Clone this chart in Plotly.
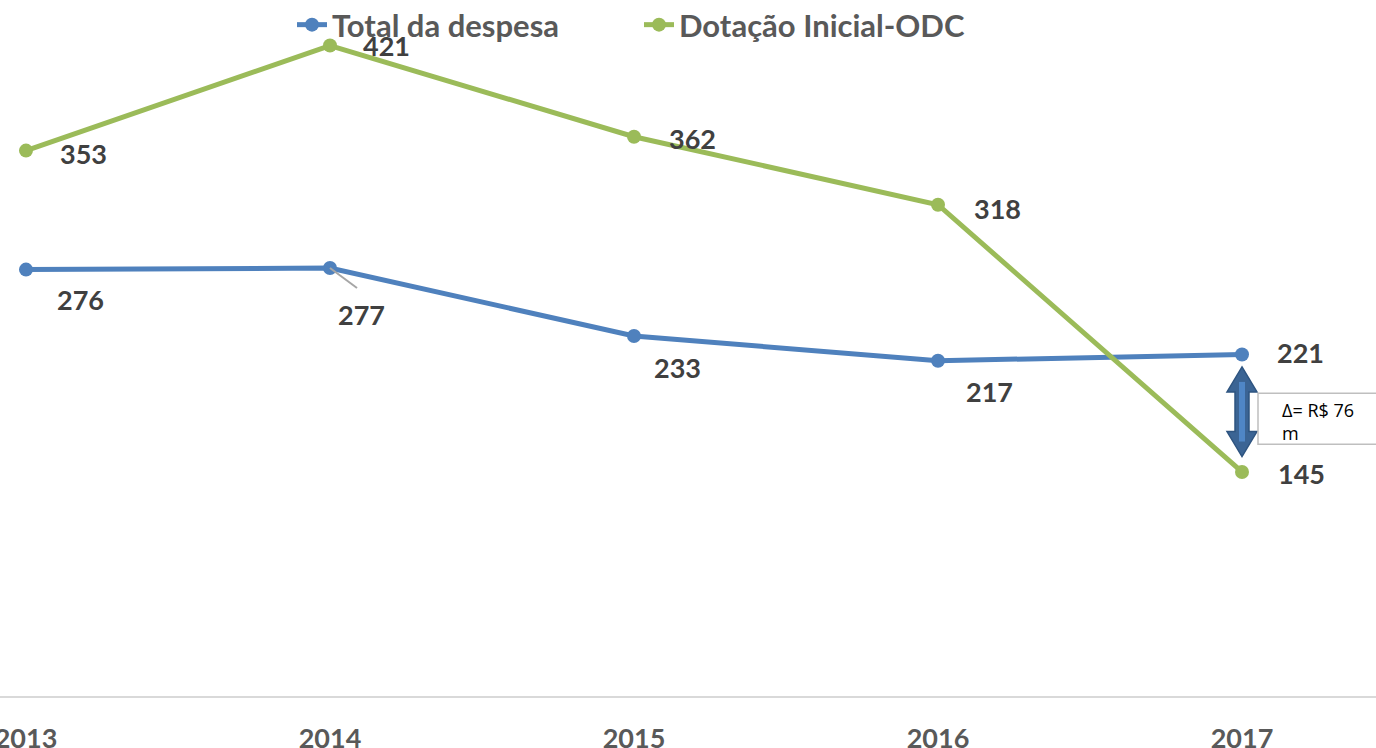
import plotly.graph_objects as go

years = ["2013", "2014", "2015", "2016", "2017"]
total_despesa = [276, 277, 233, 217, 221]
dotacao_odc = [353, 421, 362, 318, 145]
# label offsets in pixels (dx, dy) relative to each point
desp_label_off = [(54, 30), (31, 46), (43, 31), (51, 31), (58, -2)]
odc_label_off = [(57, -3), (56, 0), (58, -2), (59, -4), (59, -2)]

BLUE = "#4F81BD"
GREEN = "#9BBB59"
FONT = "Lato"
xs = list(range(len(years)))

fig = go.Figure()
fig.add_trace(go.Scatter(x=xs, y=total_despesa, mode="lines+markers", name="Total da despesa",
                         line=dict(color=BLUE, width=5), marker=dict(size=14, color=BLUE)))
fig.add_trace(go.Scatter(x=xs, y=dotacao_odc, mode="lines+markers", name="Dotação Inicial-ODC",
                         line=dict(color=GREEN, width=5), marker=dict(size=14, color=GREEN)))

ann = []
for i, v in enumerate(total_despesa):
    dx, dy = desp_label_off[i]
    ann.append(dict(x=i, y=v, text=str(v), showarrow=False, xshift=dx, yshift=-dy,
                    font=dict(family=FONT, size=27, color="#404040", weight="bold")))
for i, v in enumerate(dotacao_odc):
    dx, dy = odc_label_off[i]
    ann.append(dict(x=i, y=v, text=str(v), showarrow=False, xshift=dx, yshift=dy,
                    font=dict(family=FONT, size=27, color="#404040", weight="bold")))

# scale helpers
ppx = 304.0   # pixels per category
ppy = 1.545   # pixels per unit
last = len(years) - 1
top = total_despesa[last]
bot = dotacao_odc[last]
delta = top - bot
mid = (top + bot) / 2

shapes = []
# leader line for 277
shapes.append(dict(type="line", xref="x", yref="y", x0=1, y0=total_despesa[1],
                   x1=1 + 27 / ppx, y1=total_despesa[1] - 20 / ppy,
                   line=dict(color="#A6A6A6", width=2)))

# double-headed arrow
yt = top - 8
yb = bot + 10
hl = 25 / ppy
hw = 15 / ppx
sw = 7 / ppx
cx = last
path = (f"M {cx},{yt} L {cx+hw},{yt-hl} L {cx+sw},{yt-hl} L {cx+sw},{yb+hl} L {cx+hw},{yb+hl} "
        f"L {cx},{yb} L {cx-hw},{yb+hl} L {cx-sw},{yb+hl} L {cx-sw},{yt-hl} L {cx-hw},{yt-hl} Z")
shapes.append(dict(type="path", xref="x", yref="y", path=path, fillcolor="#3B6494",
                   line=dict(color="#2E5480", width=1.5)))
iw = 3 / ppx
shapes.append(dict(type="rect", xref="x", yref="y", x0=cx - iw, x1=cx + iw,
                   y0=yb + hl * 0.6, y1=yt - hl * 0.6, fillcolor="#4F86C6", line=dict(width=0)))

# text box
shapes.append(dict(type="rect", xref="x", yref="y", x0=cx + 16 / ppx, x1=cx + 150 / ppx,
                   y0=mid - 31 / ppy, y1=mid + 20 / ppy, fillcolor="white",
                   line=dict(color="#BFBFBF", width=1.5)))
ann.append(dict(x=cx + 38 / ppx, y=mid - 8 / ppy, text=f"Δ= R$ {delta}<br>m", showarrow=False,
                xanchor="left", yanchor="middle", align="left",
                font=dict(family="Open Sans", size=18, color="#000000")))

plot_h = 696
fig.update_layout(
    width=1376, height=748,
    margin=dict(l=0, r=0, t=0, b=748 - plot_h, autoexpand=False),
    paper_bgcolor="white", plot_bgcolor="white",
    showlegend=True,
    legend=dict(orientation="h", x=292 / 1376, y=1 - 25 / plot_h,
                xanchor="left", yanchor="middle",
                font=dict(family=FONT, size=31, color="#595959", weight="bold"),
                bgcolor="rgba(0,0,0,0)", entrywidth=302, entrywidthmode="pixels"),
    xaxis=dict(range=[-26 / ppx, (1376 - 26) / ppx], tickvals=xs, ticktext=years,
               showgrid=False, zeroline=False, showline=True, linecolor="#D9D9D9", linewidth=2,
               ticks="", automargin=False, ticklabeloverflow="allow", ticklabelstandoff=18,
               tickfont=dict(family=FONT, size=27, color="#595959", weight="bold")),
    yaxis=dict(range=[0, plot_h / ppy], visible=False, showgrid=False, zeroline=False,
               automargin=False),
    annotations=ann, shapes=shapes,
)
fig.write_html("out.html", config={"displayModeBar": False},
               post_script="document.body.style.margin='0';document.body.style.overflow='hidden';")
